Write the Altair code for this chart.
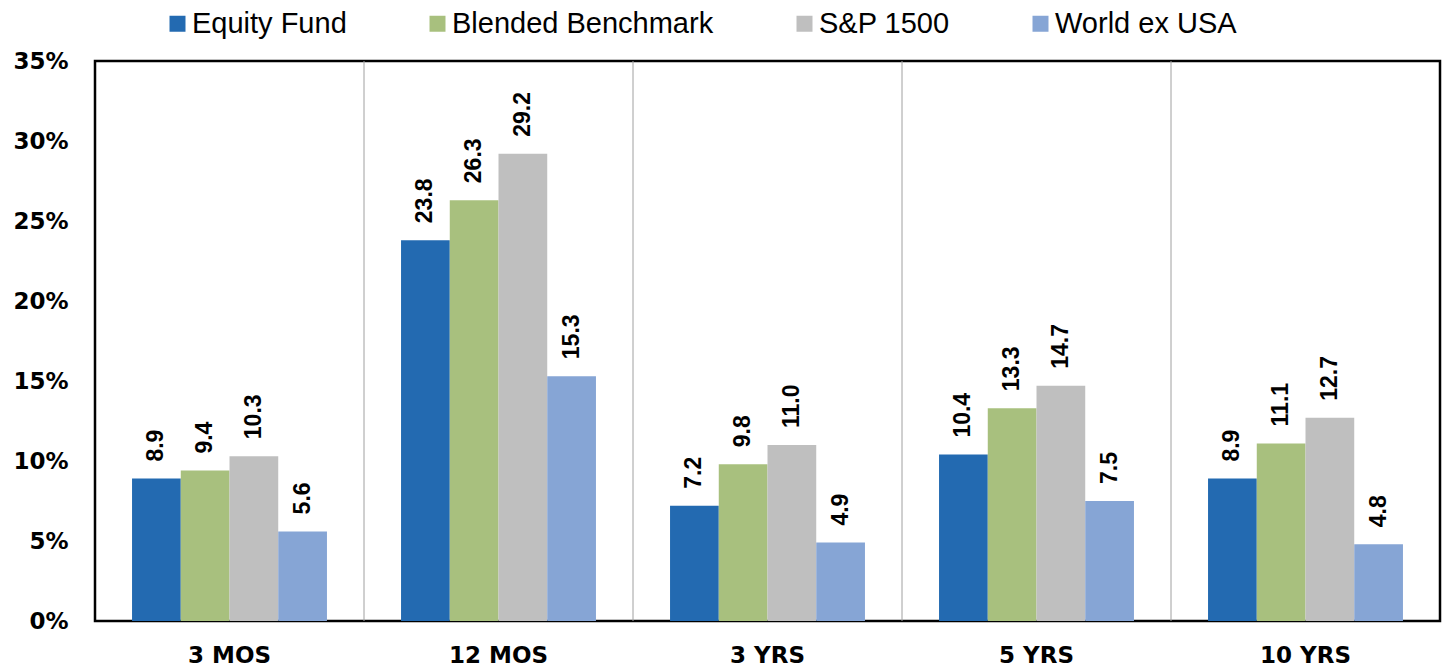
import altair as alt
import pandas as pd

categories = ["3 MOS", "12 MOS", "3 YRS", "5 YRS", "10 YRS"]
series = ["Equity Fund", "Blended Benchmark", "S&P 1500", "World ex USA"]
equity_fund = [8.9, 23.8, 7.2, 10.4, 8.9]
blended_benchmark = [9.4, 26.3, 9.8, 13.3, 11.1]
sp_1500 = [10.3, 29.2, 11.0, 14.7, 12.7]
world_ex_usa = [5.6, 15.3, 4.9, 7.5, 4.8]
colors = ["#236AB1", "#A8C07E", "#BFBFBF", "#86A5D5"]
y_ticks = [0, 5, 10, 15, 20, 25, 30, 35]

rows = []
for s, vals in zip(series, [equity_fund, blended_benchmark, sp_1500, world_ex_usa]):
    for c, v in zip(categories, vals):
        rows.append({"period": c, "series": s, "value": v})
df = pd.DataFrame(rows)
sep_df = pd.DataFrame({"period": categories[1:]})

LABEL_FONT = "Liberation Sans, Arial, sans-serif"
AXIS_FONT = "DejaVu Sans, Verdana, sans-serif"

x_scale = alt.Scale(domain=categories, paddingInner=0, paddingOuter=0)
x_axis = alt.Axis(
    title=None, labelAngle=0, ticks=False, domain=False, grid=False,
    bandPosition=0.5, labelBaseline="middle",
    labelFont=AXIS_FONT, labelFontSize=23, labelFontWeight="bold",
    labelColor="black", labelPadding=34,
)
x_enc = alt.X("period:N", sort=categories, scale=x_scale, axis=x_axis)
y_enc = alt.Y(
    "value:Q",
    scale=alt.Scale(domain=[0, 35], nice=False),
    axis=alt.Axis(
        title=None, values=y_ticks, labelExpr="datum.value + '%'",
        ticks=False, domain=False, grid=False,
        labelFont=AXIS_FONT, labelFontSize=23, labelFontWeight="bold",
        labelColor="black", labelPadding=27,
    ),
)
xoff_enc = alt.XOffset(
    "series:N", sort=series,
    scale=alt.Scale(domain=series, paddingInner=0, paddingOuter=0.76),
)

bars = alt.Chart(df).mark_bar().encode(
    x=x_enc,
    y=y_enc,
    xOffset=xoff_enc,
    color=alt.Color(
        "series:N", sort=series,
        scale=alt.Scale(domain=series, range=colors),
        legend=alt.Legend(
            title=None, orient="none", legendX=68, legendY=-52,
            direction="horizontal", columns=4, symbolType="square",
            symbolSize=256, symbolStrokeWidth=0, symbolOpacity=1,
            labelFont=LABEL_FONT, labelFontSize=29, labelColor="black",
            labelLimit=400, labelOffset=0, columnPadding=76, padding=0,
        ),
    ),
)

labels = alt.Chart(df).mark_text(
    angle=270, align="left", baseline="middle", dx=17,
    font=LABEL_FONT, fontSize=23, fontWeight="bold", color="black",
).encode(
    x=x_enc,
    y=y_enc,
    xOffset=xoff_enc,
    text=alt.Text("value:Q", format=".1f"),
)

seps = alt.Chart(sep_df).mark_rule(color="#A0A0A0", strokeWidth=1).encode(
    x=alt.X("period:N", sort=categories, bandPosition=0, scale=x_scale, axis=x_axis),
    y=alt.value(0),
    y2=alt.value(560),
)

chart = alt.layer(bars, labels, seps).properties(
    width=1345, height=560,
    autosize=alt.AutoSizeParams(type="none"),
    padding={"left": 95, "top": 61, "right": 7, "bottom": 49},
    background="white",
).configure_view(stroke="black", strokeWidth=2.5)

chart.save("out.html", embed_options={"renderer": "svg", "actions": False})
